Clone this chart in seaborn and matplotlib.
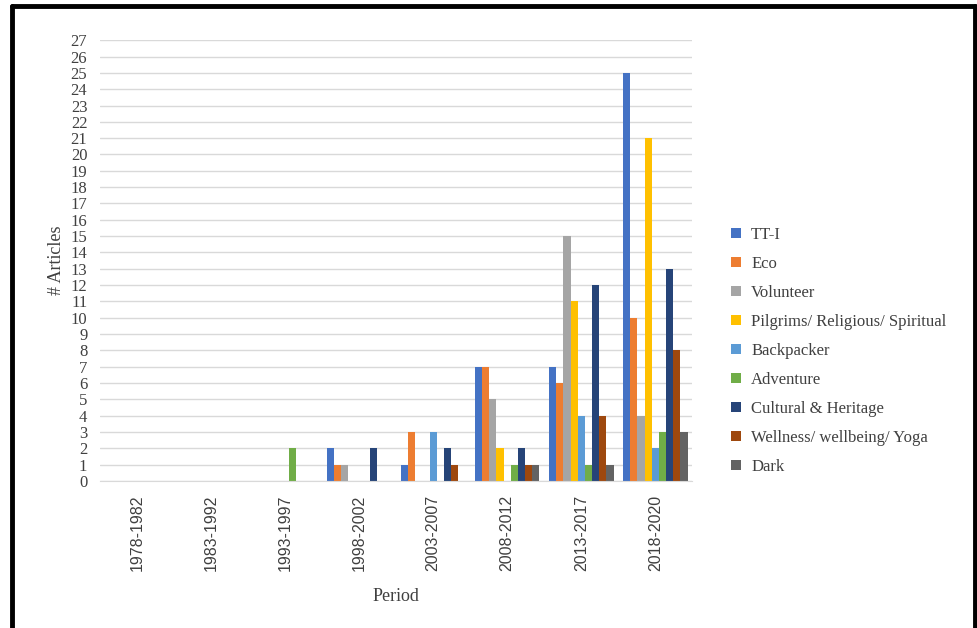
import pandas as pd
import matplotlib
matplotlib.use('Agg')
import matplotlib.pyplot as plt
from matplotlib.lines import Line2D
import seaborn as sns

periods = ['1978-1982', '1983-1992', '1993-1997', '1998-2002', '2003-2007',
           '2008-2012', '2013-2017', '2018-2020']
series = ['TT-I', 'Eco', 'Volunteer', 'Pilgrims/ Religious/ Spiritual', 'Backpacker',
          'Adventure', 'Cultural & Heritage', 'Wellness/ wellbeing/ Yoga', 'Dark']

tt_i = [0, 0, 0, 2, 1, 7, 7, 25]
eco = [0, 0, 0, 1, 3, 7, 6, 10]
volunteer = [0, 0, 0, 1, 0, 5, 15, 4]
pilgrims = [0, 0, 0, 0, 0, 2, 11, 21]
backpacker = [0, 0, 0, 0, 3, 0, 4, 2]
adventure = [0, 0, 2, 0, 0, 1, 1, 3]
cultural = [0, 0, 0, 2, 2, 2, 12, 13]
wellness = [0, 0, 0, 0, 1, 1, 4, 8]
dark = [0, 0, 0, 0, 0, 1, 1, 3]

colors = ['#4472C4', '#ED7D31', '#A5A5A5', '#FFC000', '#5B9BD5',
          '#70AD47', '#264478', '#9E480E', '#636363']

values = [tt_i, eco, volunteer, pilgrims, backpacker, adventure, cultural, wellness, dark]
df = pd.DataFrame([
    {'Period': p, 'Type': s, 'Articles': v[i]}
    for s, v in zip(series, values) for i, p in enumerate(periods)
])

sns.set_style('white')
plt.rcParams['font.family'] = ['Liberation Serif', 'DejaVu Serif']

fig = plt.figure(figsize=(9.78, 6.28), dpi=100)
ax = fig.add_axes([0.102, 0.234, 0.606, 0.702])

sns.barplot(data=df, x='Period', y='Articles', hue='Type', hue_order=series,
            order=periods, palette=colors, width=0.87, ax=ax,
            linewidth=0, errorbar=None, saturation=1)

ax.set_ylim(0, 27)
ax.set_yticks(range(0, 28))
ax.yaxis.grid(True, color='#d9d9d9', linewidth=1)
ax.set_axisbelow(True)
for side in ['left', 'right', 'top']:
    ax.spines[side].set_visible(False)
ax.spines['bottom'].set_color('#d9d9d9')
ax.tick_params(axis='y', length=0, labelsize=12, colors='#404040', pad=9)
ax.tick_params(axis='x', length=0, labelsize=11.5, colors='#404040', pad=10)
for lab in ax.get_xticklabels():
    lab.set_rotation(90)
    lab.set_family('Liberation Sans')
ax.set_ylabel('# Articles', fontsize=13, color='#404040', labelpad=4)
ax.set_xlabel('Period', fontsize=13, color='#404040', labelpad=12)

ax.legend(loc='center left', bbox_to_anchor=(1.04, 0.295), frameon=False,
          fontsize=12, handlelength=0.6, handleheight=0.6, handletextpad=0.6,
          labelspacing=0.78, labelcolor='#404040')

# black frame around the picture
kw = dict(color='black', linewidth=3.5, transform=fig.transFigure)
fig.add_artist(Line2D([12 / 978, 12 / 978], [0, 1 - 6 / 628], **kw))
fig.add_artist(Line2D([12 / 978, 975 / 978], [1 - 6 / 628, 1 - 6 / 628], **kw))
fig.add_artist(Line2D([975 / 978, 975 / 978], [0, 1 - 6 / 628], **kw))

fig.savefig('out.png', dpi=100)
